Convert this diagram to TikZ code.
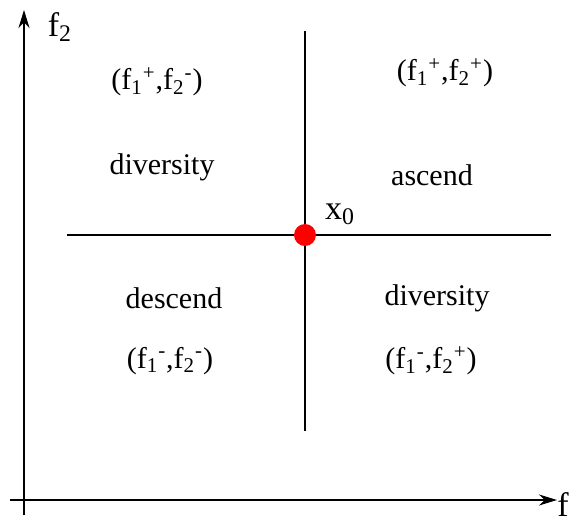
\documentclass[tikz,border=0pt]{standalone}
\usepackage{fontspec}
\setmainfont{Liberation Serif}
\usetikzlibrary{arrows.meta, positioning}

\begin{document}
\begin{tikzpicture}[
    x=0.5pt, y=-0.5pt,
    lbl/.style={inner sep=0pt, font=\fontsize{15}{18}\selectfont},
    biglbl/.style={inner sep=0pt, font=\fontsize{17}{20}\selectfont},
    axis/.style={-{Stealth[length=9pt, width=5.5pt]}, line width=1pt},
    cut/.style={line width=1pt}
]
\useasboundingbox (0,0) rectangle (570,527);

% axes
\coordinate (o1) at (24,515);
\coordinate (ytop) at (24,10);
\coordinate (o2) at (10,500);
\coordinate (xend) at (557,500);
\draw[axis] (o1) -- (ytop);
\draw[axis] (o2) -- (xend);
\node[biglbl] (f2lab) at (60,27) {f\textsubscript{2}};
\node[biglbl, anchor=west] (f1lab) at (557,507) {f\textsubscript{1}};

% quadrant lines
\coordinate (hl) at (67,235);
\coordinate (hr) at (551,235);
\coordinate (vt) at (305,31);
\coordinate (vb) at (305,431);
\draw[cut] (hl) -- (hr);
\draw[cut] (vt) -- (vb);

\node[circle, fill=red, inner sep=0pt, minimum size=11pt] (x0) at (305,235) {};
\node[biglbl] (x0lab) at (340,214) {x\textsubscript{0}};

% regions
\node[lbl] (ul) at (157,82) {(f\textsubscript{1}\textsuperscript{+},f\textsubscript{2}\textsuperscript{-})};
\node[lbl] (ulname) at (162,167) {diversity};
\node[lbl] (ur) at (445,73) {(f\textsubscript{1}\textsuperscript{+},f\textsubscript{2}\textsuperscript{+})};
\node[lbl] (urname) at (432,175) {ascend};
\node[lbl] (llname) at (174,298) {descend};
\node[lbl] (ll) at (170,361) {(f\textsubscript{1}\textsuperscript{-},f\textsubscript{2}\textsuperscript{-})};
\node[lbl] (lrname) at (437,298) {diversity};
\node[lbl] (lr) at (431,361) {(f\textsubscript{1}\textsuperscript{-},f\textsubscript{2}\textsuperscript{+})};
\end{tikzpicture}
\end{document}
